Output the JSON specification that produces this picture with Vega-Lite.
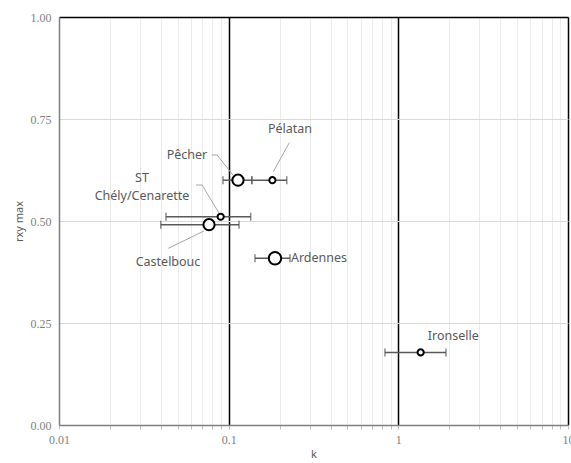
{
  "$schema": "https://vega.github.io/schema/vega-lite/v6.json",
  "width": 509,
  "height": 408,
  "autosize": {"type": "none"},
  "padding": {"left": 59, "top": 17, "right": 3, "bottom": 38},
  "background": "white",
  "config": {"view": {"stroke": null}},
  "datasets": {
    "pts": [
      {"site": "Pélatan", "k": 0.181, "klo": 0.137, "khi": 0.22, "rxy": 0.6, "weight": 1},
      {"site": "Pêcher", "k": 0.1135, "klo": 0.0926, "khi": 0.137, "rxy": 0.6, "weight": 2.5},
      {"site": "ST Chély/Cenarette", "k": 0.0897, "klo": 0.0427, "khi": 0.1348, "rxy": 0.5105, "weight": 1},
      {"site": "Castelbouc", "k": 0.0766, "klo": 0.0398, "khi": 0.1151, "rxy": 0.491, "weight": 2.5},
      {"site": "Ardennes", "k": 0.1875, "klo": 0.1429, "khi": 0.2298, "rxy": 0.4086, "weight": 3},
      {"site": "Ironselle", "k": 1.354, "klo": 0.834, "khi": 1.909, "rxy": 0.178, "weight": 1}
    ],
    "labels": [
      {"text": "Pélatan", "lx": 0.2298, "ly": 0.7255},
      {"text": "Pêcher", "lx": 0.0568, "ly": 0.6618},
      {"text": "ST\nChély/Cenarette", "lx": 0.03085, "ly": 0.6054},
      {"text": "Castelbouc", "lx": 0.0439, "ly": 0.3995},
      {"text": "Ardennes", "lx": 0.3406, "ly": 0.4086},
      {"text": "Ironselle", "lx": 2.108, "ly": 0.219}
    ],
    "leaders": [
      {"site": "Pélatan", "seq": 1, "x": 0.2277, "y": 0.6919},
      {"site": "Pélatan", "seq": 2, "x": 0.1832, "y": 0.6208},
      {"site": "Pêcher", "seq": 1, "x": 0.0794, "y": 0.6618},
      {"site": "Pêcher", "seq": 2, "x": 0.0854, "y": 0.6618},
      {"site": "Pêcher", "seq": 3, "x": 0.106, "y": 0.6127},
      {"site": "ST", "seq": 1, "x": 0.0642, "y": 0.5882},
      {"site": "ST", "seq": 2, "x": 0.0697, "y": 0.5882},
      {"site": "ST", "seq": 3, "x": 0.0877, "y": 0.5196},
      {"site": "Castelbouc", "seq": 1, "x": 0.0441, "y": 0.4331},
      {"site": "Castelbouc", "seq": 2, "x": 0.0716, "y": 0.4755}
    ]
  },
  "layer": [
    {
      "data": {"name": "pts"},
      "mark": {"type": "rule", "color": "#595959", "strokeWidth": 1.5},
      "encoding": {
        "x": {
          "field": "klo", "type": "quantitative",
          "scale": {"type": "log", "domain": [0.01, 10], "nice": false},
          "axis": {
            "values": [0.01, 0.02, 0.03, 0.04, 0.05, 0.06, 0.07, 0.08, 0.09, 0.1, 0.2, 0.3, 0.4, 0.5, 0.6, 0.7, 0.8, 0.9, 1, 2, 3, 4, 5, 6, 7, 8, 9, 10],
            "grid": true,
            "gridColor": {"condition": {"test": "datum.value == 0.1 || datum.value == 1 || datum.value == 10", "value": "#000000"}, "value": "#ebebeb"},
            "gridWidth": {"condition": {"test": "datum.value == 0.1 || datum.value == 1 || datum.value == 10", "value": 1.5}, "value": 1},
            "labelExpr": "datum.value == 0.01 ? '0.01' : datum.value == 0.1 ? '0.1' : datum.value == 1 ? '1' : datum.value == 10 ? '10' : ''",
            "labelOverlap": false,
            "labelFlush": false,
            "labelFont": "Liberation Serif",
            "labelFontSize": 12,
            "labelColor": "#7f7f7f",
            "labelPadding": 5,
            "domainColor": "#7f7f7f",
            "domainWidth": 1.5,
            "tickColor": "#bfbfbf",
            "tickSize": 4,
            "title": "k",
            "titleFont": "Noto Sans",
            "titleFontSize": 11,
            "titleFontWeight": "normal",
            "titleColor": "#595959",
            "titlePadding": 3
          }
        },
        "x2": {"field": "khi"},
        "y": {
          "field": "rxy", "type": "quantitative",
          "scale": {"domain": [0, 1], "nice": false, "zero": false},
          "axis": {
            "values": [0, 0.25, 0.5, 0.75, 1],
            "format": ".2f",
            "grid": true,
            "gridColor": {"condition": {"test": "datum.value == 1", "value": "#000000"}, "value": "#d9d9d9"},
            "gridWidth": {"condition": {"test": "datum.value == 1", "value": 1.5}, "value": 1},
            "ticks": false,
            "labelFont": "Liberation Serif",
            "labelFontSize": 12,
            "labelColor": "#7f7f7f",
            "labelPadding": 8,
            "domainColor": "#7f7f7f",
            "domainWidth": 1.5,
            "title": "rxy max",
            "titleFont": "Noto Sans",
            "titleFontSize": 11,
            "titleFontWeight": "normal",
            "titleColor": "#595959",
            "titlePadding": 6
          }
        }
      }
    },
    {
      "data": {"name": "pts"},
      "mark": {"type": "tick", "orient": "vertical", "color": "#595959", "size": 8, "thickness": 1.5},
      "encoding": {
        "x": {"field": "klo", "type": "quantitative"},
        "y": {"field": "rxy", "type": "quantitative"}
      }
    },
    {
      "data": {"name": "pts"},
      "mark": {"type": "tick", "orient": "vertical", "color": "#595959", "size": 8, "thickness": 1.5},
      "encoding": {
        "x": {"field": "khi", "type": "quantitative"},
        "y": {"field": "rxy", "type": "quantitative"}
      }
    },
    {
      "data": {"name": "leaders"},
      "mark": {"type": "line", "color": "#a6a6a6", "strokeWidth": 1},
      "encoding": {
        "x": {"field": "x", "type": "quantitative"},
        "y": {"field": "y", "type": "quantitative"},
        "detail": {"field": "site"},
        "order": {"field": "seq"}
      }
    },
    {
      "data": {"name": "pts"},
      "mark": {"type": "point", "shape": "circle", "filled": true, "fill": "white", "stroke": "black", "strokeWidth": 2, "opacity": 1},
      "encoding": {
        "x": {"field": "k", "type": "quantitative"},
        "y": {"field": "rxy", "type": "quantitative"},
        "size": {"field": "weight", "type": "quantitative", "scale": {"domain": [1, 3], "range": [38, 154]}, "legend": null}
      }
    },
    {
      "data": {"name": "labels"},
      "mark": {"type": "text", "font": "Noto Sans", "fontSize": 12.5, "color": "#595959", "align": "center", "baseline": "middle", "lineBreak": "\n", "lineHeight": 18},
      "encoding": {
        "x": {"field": "lx", "type": "quantitative"},
        "y": {"field": "ly", "type": "quantitative"},
        "text": {"field": "text"}
      }
    }
  ]
}
